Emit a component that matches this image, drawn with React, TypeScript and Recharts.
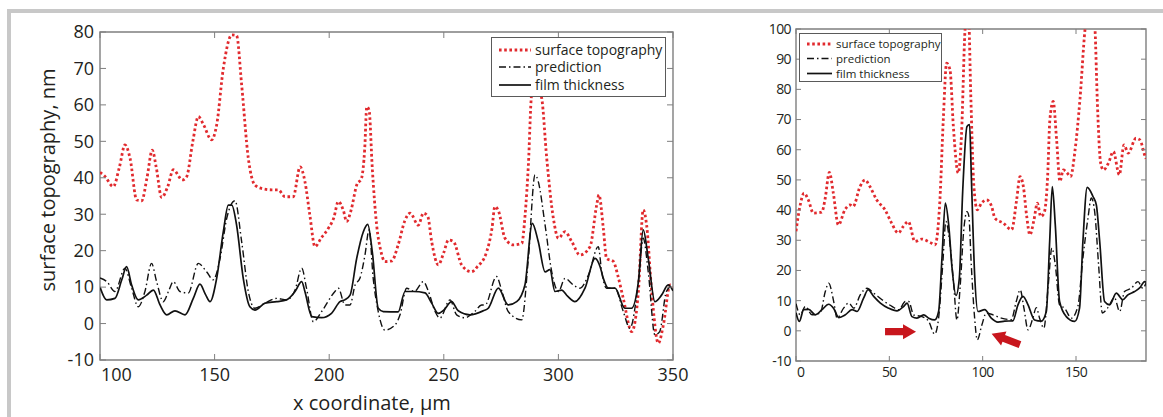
import React from 'react';
import { LineChart, Line, XAxis, YAxis, ReferenceArea, ReferenceLine, Legend } from 'recharts';

type Pt = [number, number];

const seriesNames = ['surface topography', 'prediction', 'film thickness'];

const leftXTicks = [100, 150, 200, 250, 300, 350];
const leftYTicks = [-10, 0, 10, 20, 30, 40, 50, 60, 70, 80];
const rightXTicks = [0, 50, 100, 150];
const rightYTicks = [-10, 0, 10, 20, 30, 40, 50, 60, 70, 80, 90, 100];

// left panel: x coordinate 100..350 um
const leftSurface: Pt[] = [
  [100, 41.5], [102, 40.5], [105.8, 37.6], [108.5, 43], [110.9, 49], [113.1, 45.4], [116, 33.9],
  [118.2, 33.7], [120.5, 40], [122.8, 47.6], [124.5, 43], [126.9, 34.6], [129.5, 37.5], [132, 42.2],
  [135.9, 39.4], [137.8, 40.3], [140.5, 50], [142.9, 56.8], [145, 54.8], [148.7, 50.4], [150.9, 54.5],
  [153.8, 70], [157.5, 79.2], [159.6, 79], [161.8, 65.5], [164.7, 45.4], [167.6, 38], [171, 37],
  [174.9, 36.7], [177.8, 36.7], [180.7, 34.8], [184.3, 34.8], [187.3, 43], [189.4, 39], [191.5, 30],
  [193.8, 21.1], [196.5, 23.5], [199.6, 26.1], [202, 29], [204, 33.5], [206.2, 31], [207.6, 28],
  [209.5, 31], [212, 38], [214.1, 39.9], [215.5, 48], [216.4, 59.5], [217.4, 58.6], [218.8, 42.6],
  [220.7, 27], [222.5, 20], [224.3, 17], [227.3, 17.2], [230.1, 21.6], [233.1, 28.4], [235.3, 30.3],
  [238.9, 27], [241.1, 30.3], [243, 29.4], [244.7, 22.5], [247.6, 16.1], [250, 19.5], [252, 22.9],
  [254.2, 22.5], [257.8, 16.1], [262.1, 14.2], [264.5, 15.5], [268.7, 19.7], [271, 26], [272.3, 32.1],
  [273.8, 31], [276.7, 23.4], [280.3, 21.6], [284, 22], [285.5, 30], [286.9, 43.5], [288.3, 62.7],
  [290.2, 66], [292.7, 61.9], [294.9, 45.4], [297.8, 28.9], [300, 23.4], [302.9, 25.2], [305.8, 22.5],
  [309.4, 18.8], [313.8, 21.1], [316.7, 32.5], [317.7, 35.3], [319.6, 26.1], [321, 17.9], [324, 17],
  [326, 13], [328.3, 6.9], [332, -2.2], [334.9, 8.8], [337, 31.2], [338.5, 27], [340.7, 8.8],
  [343.6, -5.4], [345.8, -0.4], [348.7, 10.6], [350, 10],
];

const leftPrediction: Pt[] = [
  [100, 12.5], [103, 11.5], [106.5, 8.8], [110.9, 15.2], [113.8, 9.7], [116.7, 4.6], [119.6, 8.8],
  [122.5, 16.5], [124.7, 11.5], [127.6, 6], [130, 9], [132, 11.5], [134.9, 8.8], [138.5, 8.4],
  [142.9, 16.5], [146.5, 14.2], [149.4, 12], [152.4, 17.9], [155.3, 28.9], [158.9, 33.7], [161.8, 22.5],
  [164.7, 8.8], [167.6, 4.2], [172, 5.6], [177.1, 6.9], [181.4, 6.5], [185.1, 9.2], [188, 15.2],
  [190.1, 9.7], [193.1, 0.5], [196.7, 3.3], [202.5, 8.8], [204, 9.7], [206.9, 5.1], [209.1, 5.1],
  [211.3, 10.6], [213.4, 12.4], [215.6, 18.8], [217.4, 25.7], [219.2, 12.4], [221.4, 3.3], [224.3, -1.8],
  [228.7, -0.4], [230.9, 2.4], [233.8, 9.7], [237.1, 8.8], [241.1, 11.5], [243.3, 8.8], [246.2, 3.3],
  [248.3, 1.5], [252.7, 6.5], [255.6, 2.4], [259.2, 1.6], [263.5, 3.3], [266.5, 5.1], [268, 5.1],
  [273, 12.9], [275.4, 8.8], [278.1, 3.3], [284, 1], [286.9, 17.9], [289.8, 40.8], [291.2, 39],
  [294.2, 27], [297.1, 14.2], [300, 8.8], [302.9, 12.4], [306.5, 10.6], [309.4, 9.7], [313.1, 13.3],
  [317.4, 21.1], [318.9, 14.2], [321, 9.7], [324.7, 9.7], [328.3, 3.3], [331.2, -1.3], [334.9, 11.5],
  [337, 23.4], [339.2, 14.2], [342.1, -3.1], [344.2, -2.2], [347.1, 8.8], [350, 10.6],
];

const leftFilm: Pt[] = [
  [100, 10], [102.9, 6.5], [106.5, 6.9], [109.5, 12], [111.6, 15.6], [113.8, 10.6], [116.7, 6.5],
  [120.4, 7.8], [123.3, 9.2], [126.2, 5.1], [129.1, 2.4], [132.7, 3.5], [137.1, 2.4], [140.7, 6.9],
  [143.6, 10.8], [146, 8], [148, 6], [150.9, 12.4], [153.8, 25.2], [156, 32.5], [157.5, 32.5],
  [159.6, 27], [162.5, 12.4], [165.4, 4.6], [167.6, 3.7], [172, 5.6], [177.1, 6], [181.4, 6.5],
  [185.1, 8.8], [188, 11.5], [189.4, 8.8], [192.4, 1.9], [196.7, 1.6], [201, 2.8], [204.7, 6],
  [206.8, 6.5], [209.1, 7.8], [212, 17.9], [214.9, 25.2], [216.8, 27.2], [218.8, 19.7], [221.4, 4.2],
  [223.6, 3.3], [230.1, 3.2], [233.1, 8.8], [236.7, 8.8], [241.8, 8.4], [244.7, 5.6], [247.6, 2.8],
  [250, 3.7], [253.4, 6], [256.3, 3.5], [261.4, 2.4], [267.2, 3.5], [269.4, 4.2], [273.8, 9.7],
  [278.1, 5.1], [281.8, 6], [285.4, 10.6], [288.6, 27.5], [291.2, 22.5], [294.2, 14.2], [296.3, 14.8],
  [298.5, 8.8], [301.4, 9.2], [304, 7.5], [307.2, 6], [311.6, 9.7], [316, 17.9], [318.2, 15.6],
  [319.6, 12.4], [321.8, 9.7], [324.7, 9.7], [329, 4.2], [331.9, 4.2], [334.9, 11.5], [337, 25.7],
  [339.2, 17.9], [342.1, 6], [345, 7.8], [347.9, 10.6], [350, 9],
];

// right panel: x 0..187.5
const rightSurface: Pt[] = [
  [0, 33], [2.1, 41.2], [4.3, 45.6], [6.6, 43.4], [9.3, 39], [13.8, 39.3], [15.5, 43.4], [17.9, 52.5],
  [20, 45.6], [22.7, 35.1], [26.2, 40.1], [28.9, 41.7], [30.6, 41.2], [34.3, 47.8], [37, 50],
  [39.6, 47.8], [43.2, 43.4], [47.7, 40.1], [51.2, 35.7], [54.8, 32.4], [57.5, 34.6], [60.2, 36.2],
  [63.7, 29.6], [67.3, 30.4], [71.8, 29.3], [74.5, 28.5], [77.1, 43.4], [78.9, 69.9], [80.7, 88.7],
  [82.5, 86.5], [84.3, 67.7], [86.9, 52.3], [88.7, 65.5], [90.5, 99.2], [91.6, 106], [92.5, 104],
  [93.6, 78.8], [95.3, 47.8], [97.1, 40.1], [99.4, 42.3], [102.1, 43.4], [104.8, 41.2], [106.6, 37.3],
  [111, 35.7], [115.5, 33.5], [118.2, 43.4], [120, 51.1], [121.8, 47.8], [123.6, 37.9], [125.3, 31.8],
  [127.5, 36.8], [129.3, 42.3], [131.1, 37.9], [132.9, 39], [134.8, 51.1], [136, 69.9], [137.8, 76],
  [139.6, 63.3], [141.4, 49.5], [143.2, 53.3], [145, 52.5], [147.1, 51.1], [149.4, 59.4], [152.1, 76.5],
  [154.8, 99.7], [157, 110], [159, 108], [160.2, 100], [161.4, 76.5], [163.2, 55.6], [164.7, 53.3],
  [167.4, 55.6], [170, 59.4], [173.2, 51.7], [175.7, 61.6], [178, 58.9], [182.1, 63.8], [184.2, 63.3],
  [187, 57.8], [187.5, 57],
];

const rightPrediction: Pt[] = [
  [0, 9], [2.3, 5.3], [5, 8.1], [8.6, 5.3], [13, 5.9], [15.7, 13], [17.5, 15.8], [20.2, 9.7], [22, 4.2],
  [25.5, 7.5], [28.2, 9.2], [31, 7.5], [34.4, 11.9], [38, 14.1], [41.6, 12.5], [46.1, 10.3], [51.4, 8.1],
  [55.1, 7], [58.6, 9.7], [60.4, 9.7], [63, 5.3], [67.5, 4.7], [71.1, 3.1], [74.3, -1.1], [76.4, 4.2],
  [78.6, 21.9], [80.3, 36.2], [82.1, 30.7], [84.5, 15.2], [86.2, 3.6], [88, 15.2], [89.8, 32.9],
  [91.6, 39.5], [92.6, 38], [93.9, 21.9], [95.7, 4.2], [97.1, -3], [99.6, 2], [101.9, 5.9], [105.5, 5.3],
  [110, 4.2], [115.3, 3.7], [118, 9.7], [120.1, 13.6], [122.1, 7.5], [124.3, 0.3], [126.9, 4.2],
  [128.7, 7.7], [130.5, 4.2], [132.8, 0.9], [135, 14.1], [137.1, 27.4], [138.9, 21.9], [141.2, 8.6],
  [143.9, 7.5], [147.5, 4.2], [151, 8.1], [153.7, 24.1], [156.4, 37.3], [158.2, 44], [160, 39.5],
  [162.1, 21.9], [164.1, 5.9], [167.1, 7.7], [170.6, 11], [173.4, 6.4], [176, 13], [179.6, 14.1],
  [183.2, 16.3], [185.8, 14.1], [187.5, 15.8],
];

const rightFilm: Pt[] = [
  [0, 6], [1.8, 3.1], [4.1, 7], [6.8, 7.1], [10.4, 5.3], [13.9, 7], [17.5, 8.8], [20.2, 7.4], [22.9, 4.4],
  [26.4, 5.3], [30, 7], [32.7, 6.4], [36.2, 10.8], [38.6, 13.6], [41.6, 11.4], [45.2, 9.2], [49.6, 7.5],
  [54.1, 6.6], [57.7, 8.1], [59.5, 9.2], [62.1, 4.7], [64.8, 4.2], [68.4, 5.3], [71.1, 4.2], [74.3, 3.6],
  [76.4, 6.4], [78.2, 24.1], [80, 42.3], [81.8, 35.1], [83.6, 20.8], [85.7, 11.7], [87.5, 17.5],
  [89.3, 46.2], [91.6, 67.7], [93, 68.3], [93.9, 51.7], [95.7, 18.6], [97.5, 6.4], [101.1, 7],
  [104.6, 4.2], [108.2, 2.9], [111.8, 3.2], [116.2, 3.3], [118.9, 8.6], [121.6, 11.4], [124.3, 8.6],
  [127.8, 3.6], [131.4, 3.2], [134.1, 6.4], [135.9, 29.6], [137.3, 47.8], [138.9, 35.1], [141.2, 9.7],
  [144.8, 4.7], [149.3, 3.1], [151.9, 7.5], [153.7, 29.6], [156, 47.5], [159.1, 44.5], [160.9, 41.7],
  [162.7, 29.6], [165.3, 9.7], [168, 8.6], [171.6, 12.5], [175.1, 10.3], [177.8, 11.9], [181.4, 13],
  [184.1, 14.2], [186.8, 16.3], [187.5, 16],
];

// red arrows in the right panel (tail, tip)
const rightArrows: [Pt, Pt][] = [
  [[47.7, -0.3], [64.3, -0.3]],
  [[120, -4.6], [104.8, -1.0]],
];

const TEXT = '#231f20';
const AXIS = '#7f7f7f';
const FONT = '"Open Sans", "Noto Sans", sans-serif';

const lineStyles = [
  { stroke: '#e12a2e', strokeWidth: 2.8, strokeDasharray: '2.6 2.6' },
  { stroke: '#111', strokeWidth: 1.4, strokeDasharray: '7 3 1.5 3' },
  { stroke: '#111', strokeWidth: 1.7 },
];

const toPoints = (pts: Pt[]) => pts.map(([x, y]) => ({ x, y }));

function arrowShape(p: any) {
  const { x1, y1, x2, y2 } = p;
  const dx = x2 - x1;
  const dy = y2 - y1;
  const len = Math.hypot(dx, dy) || 1;
  const ux = dx / len;
  const uy = dy / len;
  const nx = -uy;
  const ny = ux;
  const head = 13;
  const sw = 3.6;
  const hw = 7.5;
  const bx = x2 - ux * head;
  const by = y2 - uy * head;
  const pts = [
    [x1 + nx * sw, y1 + ny * sw],
    [bx + nx * sw, by + ny * sw],
    [bx + nx * hw, by + ny * hw],
    [x2, y2],
    [bx - nx * hw, by - ny * hw],
    [bx - nx * sw, by - ny * sw],
    [x1 - nx * sw, y1 - ny * sw],
  ];
  return <polygon points={pts.map((q) => q.join(',')).join(' ')} fill="#c8161d" />;
}

type LegendGeom = {
  left: number;
  top: number;
  width: number;
  height: number;
  rows: number[];
  sampleWidth: number;
  fontSize: number;
};

type PanelProps = {
  width: number;
  height: number;
  top: number;
  right: number;
  yAxisWidth: number;
  xAxisHeight: number;
  xDomain: [number, number];
  yDomain: [number, number];
  xTicks: number[];
  yTicks: number[];
  tickFont: number;
  tickSpacing: number;
  tickLen: number;
  gapX: number;
  gapY: number;
  series: Pt[][];
  legend: LegendGeom;
  xLabel?: { text: string; x: number; y: number };
  yLabel?: { text: string; x: number; y: number };
  arrows?: [Pt, Pt][];
};

function Panel(props: PanelProps) {
  const {
    width, height, top, right, yAxisWidth, xAxisHeight, xDomain, yDomain, xTicks, yTicks,
    tickFont, tickSpacing, tickLen, gapX, gapY, series, legend, xLabel, yLabel, arrows,
  } = props;
  const plotTop = top;
  const plotRight = width - right;

  const xTick = (p: any) => {
    const { x, y, payload } = p;
    const axisY = y - gapX;
    const first = payload.value === xTicks[0];
    return (
      <g>
        <line x1={x} x2={x} y1={axisY} y2={axisY - tickLen} stroke={AXIS} strokeWidth={1} />
        <line x1={x} x2={x} y1={plotTop} y2={plotTop + tickLen} stroke={AXIS} strokeWidth={1} />
        <text
          x={first ? x + 1 : x}
          y={y}
          dy="0.71em"
          textAnchor={first ? 'start' : 'middle'}
          fontSize={tickFont}
          letterSpacing={tickSpacing}
          fontFamily={FONT}
          fill={TEXT}
        >
          {payload.value}
        </text>
      </g>
    );
  };

  const yTick = (p: any) => {
    const { x, y, payload } = p;
    const axisX = x + gapY;
    return (
      <g>
        <line x1={axisX} x2={axisX + tickLen} y1={y} y2={y} stroke={AXIS} strokeWidth={1} />
        <line x1={plotRight} x2={plotRight - tickLen} y1={y} y2={y} stroke={AXIS} strokeWidth={1} />
        <text
          x={x}
          y={y}
          dy="0.35em"
          textAnchor="end"
          fontSize={tickFont}
          letterSpacing={tickSpacing}
          fontFamily={FONT}
          fill={TEXT}
        >
          {payload.value}
        </text>
      </g>
    );
  };

  const renderLegend = () => (
    <div
      style={{
        width: legend.width,
        height: legend.height,
        boxSizing: 'border-box',
        border: '1px solid #5a5a5a',
        background: '#fff',
        position: 'relative',
      }}
    >
      <svg width={legend.width - 2} height={legend.height - 2} style={{ position: 'absolute', left: 0, top: 0 }}>
        {seriesNames.map((name, i) => (
          <g key={name}>
            <line
              x1={7}
              x2={7 + legend.sampleWidth}
              y1={legend.rows[i]}
              y2={legend.rows[i]}
              stroke={lineStyles[i].stroke}
              strokeWidth={lineStyles[i].strokeWidth}
              strokeDasharray={lineStyles[i].strokeDasharray}
            />
            <text
              x={11 + legend.sampleWidth}
              y={legend.rows[i]}
              dy="0.35em"
              fontSize={legend.fontSize}
              fontFamily={FONT}
              fill={TEXT}
            >
              {name}
            </text>
          </g>
        ))}
      </svg>
    </div>
  );

  return (
    <LineChart width={width} height={height} margin={{ top, right, bottom: 0, left: 0 }}>
      <XAxis
        type="number"
        dataKey="x"
        domain={xDomain}
        ticks={xTicks}
        allowDataOverflow
        height={xAxisHeight}
        axisLine={false}
        tickLine={false}
        tickSize={0}
        tickMargin={gapX}
        tick={xTick}
        interval={0}
        label={
          xLabel
            ? {
                content: () => (
                  <text
                    x={xLabel.x}
                    y={xLabel.y}
                    textAnchor="middle"
                    dominantBaseline="central"
                    fontSize={20}
                    fontFamily={FONT}
                    fill={TEXT}
                  >
                    {xLabel.text}
                  </text>
                ),
              }
            : undefined
        }
      />
      <YAxis
        type="number"
        dataKey="y"
        domain={yDomain}
        ticks={yTicks}
        allowDataOverflow
        width={yAxisWidth}
        axisLine={false}
        tickLine={false}
        tickSize={0}
        tickMargin={gapY}
        tick={yTick}
        interval={0}
        label={
          yLabel
            ? {
                content: () => (
                  <text
                    x={yLabel.x}
                    y={yLabel.y}
                    transform={`rotate(-90 ${yLabel.x} ${yLabel.y})`}
                    textAnchor="middle"
                    dominantBaseline="central"
                    fontSize={20}
                    fontFamily={FONT}
                    fill={TEXT}
                  >
                    {yLabel.text}
                  </text>
                ),
              }
            : undefined
        }
      />
      {series.map((pts, i) => (
        <Line
          key={seriesNames[i]}
          name={seriesNames[i]}
          data={toPoints(pts)}
          dataKey="y"
          type="monotone"
          dot={false}
          activeDot={false}
          isAnimationActive={false}
          {...lineStyles[i]}
        />
      ))}
      {(arrows || []).map((seg, i) => (
        <ReferenceLine
          key={i}
          segment={[
            { x: seg[0][0], y: seg[0][1] },
            { x: seg[1][0], y: seg[1][1] },
          ]}
          shape={arrowShape}
        />
      ))}
      <ReferenceArea
        x1={xDomain[0]}
        x2={xDomain[1]}
        y1={yDomain[0]}
        y2={yDomain[1]}
        fill="none"
        fillOpacity={0}
        stroke={AXIS}
        strokeWidth={1.4}
      />
      <Legend
        layout="horizontal"
        verticalAlign="middle"
        align="center"
        content={renderLegend}
        wrapperStyle={{ left: legend.left, top: legend.top, width: legend.width, height: legend.height }}
      />
    </LineChart>
  );
}

export default function App() {
  return (
    <div style={{ position: 'absolute', left: 0, top: 0, width: 1163, height: 417, background: '#fff', overflow: 'hidden' }}>
      <div
        style={{
          position: 'absolute',
          left: 7,
          top: 9,
          right: 0,
          bottom: 0,
          borderTop: '4px solid #c8c8c8',
          borderLeft: '4px solid #c8c8c8',
        }}
      />
      <div style={{ position: 'absolute', left: 0, top: 0 }}>
        <Panel
          width={700}
          height={417}
          top={32}
          right={27}
          yAxisWidth={100}
          xAxisHeight={57}
          xDomain={[100, 350]}
          yDomain={[-10, 80]}
          xTicks={leftXTicks}
          yTicks={leftYTicks}
          tickFont={18}
          tickSpacing={0}
          tickLen={6}
          gapX={8}
          gapY={6}
          series={[leftSurface, leftPrediction, leftFilm]}
          legend={{ left: 491, top: 37, width: 175, height: 60, rows: [12, 29, 47], sampleWidth: 32, fontSize: 14 }}
          xLabel={{ text: 'x coordinate, µm', x: 372, y: 402 }}
          yLabel={{ text: 'surface topography, nm', x: 47, y: 180 }}
        />
      </div>
      <div style={{ position: 'absolute', left: 700, top: 0 }}>
        <Panel
          width={463}
          height={417}
          top={29}
          right={17}
          yAxisWidth={96}
          xAxisHeight={56}
          xDomain={[0, 187.5]}
          yDomain={[-10, 100]}
          xTicks={rightXTicks}
          yTicks={rightYTicks}
          tickFont={14}
          tickSpacing={-0.6}
          tickLen={5}
          gapX={6}
          gapY={5}
          series={[rightSurface, rightPrediction, rightFilm]}
          legend={{ left: 99, top: 33, width: 143, height: 49, rows: [10, 24.5, 39.5], sampleWidth: 25, fontSize: 11.5 }}
          arrows={rightArrows}
        />
      </div>
    </div>
  );
}
